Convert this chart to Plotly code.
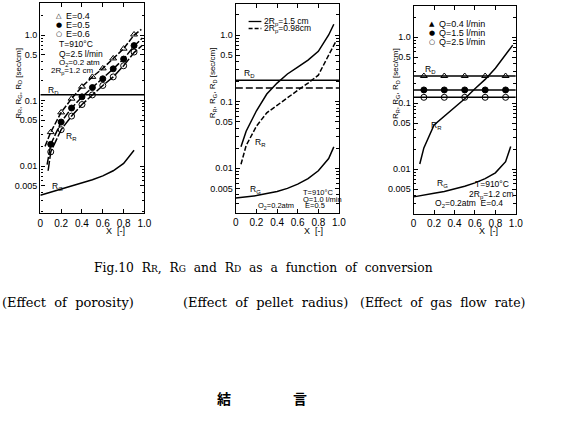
import plotly.graph_objects as go

W, H = 568, 425

# ---------------- data ----------------
x_mark1 = [0.1, 0.2, 0.3, 0.4, 0.5, 0.6, 0.7, 0.8, 0.9]
p1_E04 = [0.033, 0.066, 0.107, 0.163, 0.23, 0.31, 0.44, 0.62, 1.02]
p1_E05 = [0.0215, 0.047, 0.077, 0.114, 0.158, 0.215, 0.305, 0.43, 0.69]
p1_E06 = [0.0165, 0.036, 0.058, 0.087, 0.122, 0.17, 0.23, 0.34, 0.55]
p1_c04_x = [0.045, 0.1, 0.2, 0.3, 0.4, 0.5, 0.6, 0.7, 0.8, 0.9, 0.97]
p1_c04_y = [0.02, 0.033, 0.066, 0.107, 0.163, 0.23, 0.31, 0.44, 0.62, 1.0, 1.22]
p1_c05_x = [0.065, 0.1, 0.2, 0.3, 0.4, 0.5, 0.6, 0.7, 0.8, 0.9, 0.98]
p1_c05_y = [0.0105, 0.0215, 0.047, 0.077, 0.114, 0.158, 0.215, 0.305, 0.43, 0.68, 0.9]
p1_c06_x = [0.075, 0.1, 0.2, 0.3, 0.4, 0.5, 0.6, 0.7, 0.8, 0.9, 0.98]
p1_c06_y = [0.0085, 0.0165, 0.036, 0.058, 0.087, 0.122, 0.17, 0.23, 0.34, 0.54, 0.7]
p1_RD = 0.123
p1_RG_x = [0, 0.1, 0.2, 0.3, 0.4, 0.5, 0.6, 0.7, 0.8, 0.9]
p1_RG_y = [0.0036, 0.004, 0.0044, 0.0049, 0.0055, 0.0062, 0.0071, 0.0085, 0.011, 0.0175]

p2_RR15_x = [0.05, 0.1, 0.2, 0.3, 0.4, 0.5, 0.6, 0.7, 0.8, 0.9, 0.95]
p2_RR15_y = [0.021, 0.036, 0.073, 0.13, 0.19, 0.26, 0.33, 0.42, 0.57, 1.0, 1.45]
p2_RR098_x = [0.05, 0.1, 0.2, 0.3, 0.4, 0.5, 0.6, 0.7, 0.8, 0.9, 0.97]
p2_RR098_y = [0.0115, 0.022, 0.043, 0.068, 0.088, 0.116, 0.148, 0.19, 0.25, 0.5, 0.8]
p2_RD15 = 0.21
p2_RD098 = 0.16
p2_RG_x = [0, 0.1, 0.2, 0.3, 0.4, 0.5, 0.6, 0.7, 0.8, 0.9, 0.95]
p2_RG_y = [0.0036, 0.0037, 0.0039, 0.0042, 0.0045, 0.005, 0.0058, 0.007, 0.0092, 0.014, 0.021]

x_mark3 = [0.1, 0.3, 0.5, 0.7, 0.9]
p3_Q04 = 0.259
p3_Q15 = 0.159
p3_Q25 = 0.123
p3_RR_x = [0.06, 0.1, 0.2, 0.3, 0.4, 0.5, 0.6, 0.7, 0.8, 0.9, 0.97]
p3_RR_y = [0.012, 0.021, 0.047, 0.064, 0.085, 0.117, 0.166, 0.23, 0.34, 0.54, 0.76]
p3_RG_x = [0, 0.1, 0.2, 0.3, 0.4, 0.5, 0.6, 0.7, 0.8, 0.9, 0.95]
p3_RG_y = [0.0038, 0.004, 0.0043, 0.0046, 0.005, 0.0055, 0.0062, 0.0072, 0.0088, 0.013, 0.022]

x_ticks = [0, 0.2, 0.4, 0.6, 0.8, 1.0]
x_ticktext = ["0", "0.2", "0.4", "0.6", "0.8", "1.0"]
y_ticks = [0.005, 0.01, 0.05, 0.1, 0.5, 1.0]
y_ticktext = ["0.005", "0.01", "0.05", "0.1", "0.5", "1.0"]
y_minor = [m * 10 ** e for e in (-3, -2, -1, 0) for m in range(2, 10) if m * 10 ** e < 3.1]

# ---------------- figure ----------------
fig = go.Figure()
K = "black"
SANS = "Liberation Sans Narrow, Arial Narrow, Liberation Sans, Arial"
SERIF = "DejaVu Serif, Liberation Serif, serif"


def line(x, y, ax, dash="solid", width=1.5):
    fig.add_trace(go.Scatter(x=x, y=y, mode="lines", xaxis=ax[0], yaxis=ax[1],
                             line=dict(color=K, width=width, dash=dash),
                             showlegend=False, hoverinfo="skip"))


def marks(x, y, ax, symbol):
    fig.add_trace(go.Scatter(x=x, y=y, mode="markers", xaxis=ax[0], yaxis=ax[1],
                             marker=dict(symbol=symbol, size=6, color=K,
                                         line=dict(color=K, width=1)),
                             showlegend=False, hoverinfo="skip"))


A1, A2, A3 = ("x", "y"), ("x2", "y2"), ("x3", "y3")

# panel 1
line(p1_c04_x, p1_c04_y, A1, dash="6px,2px")
line(p1_c05_x, p1_c05_y, A1, dash="8px,2px")
line(p1_c06_x, p1_c06_y, A1, dash="10px,2px")
marks(x_mark1, p1_E04, A1, "triangle-up-open")
marks(x_mark1, p1_E05, A1, "circle")
marks(x_mark1, p1_E06, A1, "circle-open")
line([0, 1], [p1_RD, p1_RD], A1)
line(p1_RG_x, p1_RG_y, A1)

# panel 2
line(p2_RR15_x, p2_RR15_y, A2)
line(p2_RR098_x, p2_RR098_y, A2, dash="5px,2px")
line([0, 1], [p2_RD15, p2_RD15], A2)
line([0, 1], [p2_RD098, p2_RD098], A2, dash="7px,3px")
line(p2_RG_x, p2_RG_y, A2)

# panel 3
for v, sym in ((p3_Q04, "triangle-up-open"), (p3_Q15, "circle"), (p3_Q25, "circle-open")):
    line([0, 1], [v, v], A3)
    marks(x_mark3, [v] * len(x_mark3), A3, sym)
line(p3_RR_x, p3_RR_y, A3)
line(p3_RG_x, p3_RG_y, A3)


def xa(dom):
    return dict(domain=dom, range=[0, 1], tickvals=x_ticks, ticktext=x_ticktext,
                ticks="inside", ticklen=4, tickwidth=1, tickcolor=K,
                showline=True, linecolor=K, linewidth=1.4, mirror="ticks",
                showgrid=False, zeroline=False,
                tickfont=dict(family=SANS, size=10, color=K))


def ya(dom, rng):
    return dict(domain=dom, type="log", range=rng, tickvals=y_ticks, ticktext=y_ticktext,
                ticks="inside", ticklen=4, tickwidth=1, tickcolor=K,
                minor=dict(tickvals=y_minor, ticks="inside", ticklen=2.5, tickcolor=K),
                showline=True, linecolor=K, linewidth=1.4, mirror="ticks",
                showgrid=False, zeroline=False,
                tickfont=dict(family=SANS, size=9, color=K))


def fx(px):
    return px / W


def fy(py):
    return 1 - py / H


fig.update_layout(
    width=W, height=H, margin=dict(l=0, r=0, t=0, b=0),
    paper_bgcolor="white", plot_bgcolor="white", showlegend=False,
    xaxis=dict(xa([fx(38), fx(144)]), anchor="y"),
    yaxis=dict(ya([fy(213.3), fy(3)], [-2.72, 0.489]), anchor="x"),
    xaxis2=dict(xa([fx(237), fx(342)]), anchor="y2"),
    yaxis2=dict(ya([fy(213), fy(4)], [-2.67, 0.465]), anchor="x2"),
    xaxis3=dict(xa([fx(418), fx(522)]), anchor="y3"),
    yaxis3=dict(ya([fy(214), fy(6)], [-2.68, 0.475]), anchor="x3"),
)

ann = []


def txt(px, py, s, size=8.5, anchor="left", font=SANS, angle=0, color=K):
    ann.append(dict(x=fx(px), y=fy(py), xref="paper", yref="paper", text=s,
                    showarrow=False, xanchor=anchor, yanchor="middle", textangle=angle,
                    font=dict(family=font, size=size, color=color)))


YT = "R<sub>R</sub>, R<sub>G</sub>, R<sub>D</sub> [sec/cm]"
for xp in (16, 214, 400):
    txt(xp, 83, YT, size=8, anchor="center", angle=-90)
for xp in (115, 316, 494):
    txt(xp, 231, "X  [-]", size=9, anchor="center")

# panel 1 texts
SYM = "DejaVu Sans"
txt(57, 16, "△", size=7, anchor="center", font=SYM)
txt(57, 25, "●", size=7, anchor="center", font=SYM)
txt(57, 33.5, "○", size=7, anchor="center", font=SYM)
txt(62, 16, "E=0.4", size=9)
txt(62, 25, "E=0.5", size=9)
txt(62, 33.5, "E=0.6", size=9)
txt(55, 44, "T=910°C", size=8.5)
txt(55, 54, "Q=2.5 l/min", size=8.5)
txt(55, 63, "O<sub>2</sub>=0.2 atm", size=8)
txt(47, 71.5, "2R<sub>p</sub>=1.2 cm", size=8)
txt(44, 90, "R<sub>D</sub>", size=8.5)
txt(62, 136, "R<sub>R</sub>", size=8.5)
txt(48, 186, "R<sub>G</sub>", size=8.5)

# panel 2 texts
txt(264, 21.5, "2R<sub>p</sub>=1.5 cm", size=8.5)
txt(264, 28.5, "2R<sub>p</sub>=0.98cm", size=8.5)
txt(243, 74, "R<sub>D</sub>", size=8.5)
txt(254, 143, "R<sub>R</sub>", size=8.5)
txt(249, 189, "R<sub>G</sub>", size=8.5)
txt(303, 192.5, "T=910°C", size=7.5)
txt(303, 199, "Q=1.0 l/min", size=7.5)
txt(305, 205.5, "E=0.5", size=7.5)
txt(258, 205.5, "O<sub>2</sub>=0.2atm", size=7.5)

# panel 3 texts
txt(436.5, 24, "▲", size=7, anchor="center", font=SYM)
txt(436.5, 33.3, "●", size=7, anchor="center", font=SYM)
txt(436.5, 41.7, "○", size=7, anchor="center", font=SYM)
txt(442, 24, "Q=0.4 l/min", size=9)
txt(442, 33.3, "Q=1.5 l/min", size=9)
txt(442, 41.7, "Q=2.5 l/min", size=9)
txt(428, 69, "R<sub>D</sub>", size=8.5)
txt(434, 125, "R<sub>R</sub>", size=8.5)
txt(440, 184, "R<sub>G</sub>", size=8.5)
txt(478, 183.5, "T=910°C", size=8.5)
txt(472, 194, "2R<sub>p</sub>=1.2 cm", size=8.5)
txt(438, 203.5, "O<sub>2</sub>=0.2atm  E=0.4", size=8.5)

# captions below
SM = "<span style='font-size:9px'>%s</span>"
cap = ("Fig.10  R" + SM % "R" + ",  R" + SM % "G" + "  and  R" + SM % "D"
       + "  as  a  function  of  conversion")
txt(265, 268, cap, size=12.3, anchor="center", font=SERIF)
txt(-3, 302, "(Effect  of  porosity)", size=13, font=SERIF)
txt(181, 302, "(Effect  of  pellet  radius)", size=13, font=SERIF)
txt(361, 302, "(Effect  of  gas  flow  rate)", size=12.5, font=SERIF)
txt(225, 397.5, "<b>結</b>", size=14, anchor="center", font="Noto Sans CJK JP")
txt(302, 397.5, "<b>言</b>", size=14, anchor="center", font="Noto Sans CJK JP")

fig.update_layout(annotations=ann)

# legend line samples (panel 2)
fig.add_shape(type="line", xref="paper", yref="paper", x0=fx(250), x1=fx(263),
              y0=fy(21.5), y1=fy(21.5), line=dict(color=K, width=1.3))
fig.add_shape(type="line", xref="paper", yref="paper", x0=fx(250), x1=fx(263),
              y0=fy(28.5), y1=fy(28.5), line=dict(color=K, width=1.3, dash="4px,2px"))

fig.write_html("out.html")
